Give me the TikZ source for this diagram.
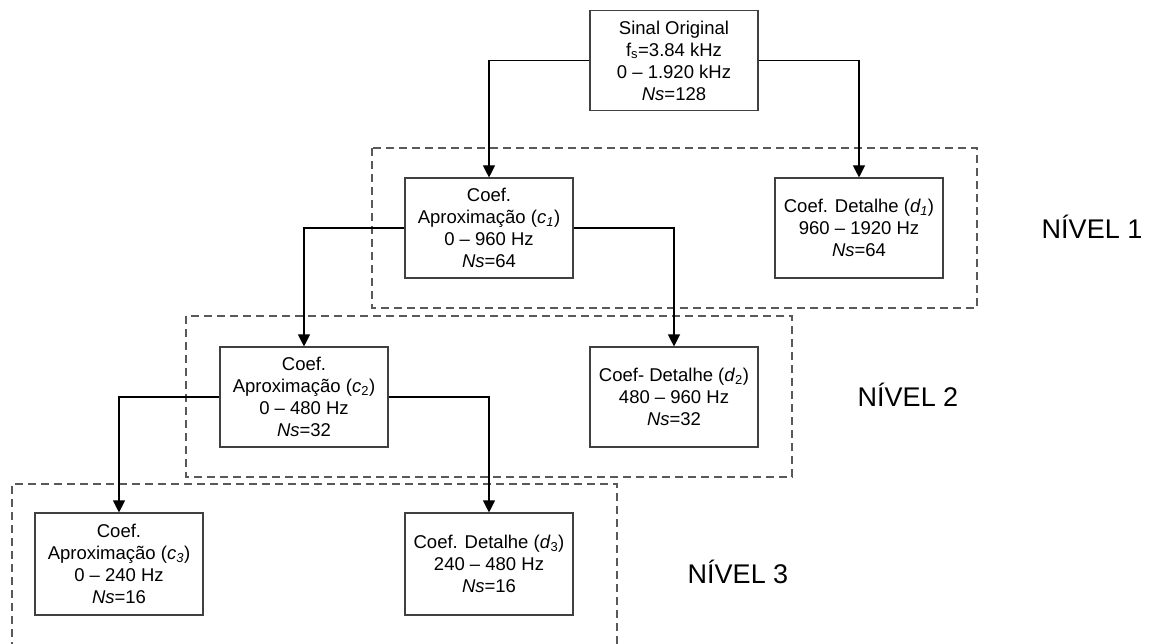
\documentclass[tikz,border=0pt]{standalone}
\usepackage{fontspec}
\setmainfont{Liberation Sans}
\usetikzlibrary{arrows.meta}
\tikzset{
  box/.style={draw=black!75, line width=1.1pt, fill=white, minimum width=168pt, minimum height=100pt, align=center, inner sep=2pt, font=\fontsize{18.5}{22}\selectfont},
  arr/.style={draw=black, line width=1.1pt, -{Triangle[width=12pt,length=12pt]}},
  grp/.style={draw=black!65, line width=1.2pt, dash pattern=on 8pt off 5pt},
  lvl/.style={font=\fontsize{27}{30}\selectfont, inner sep=0pt}
}
\begin{document}
\begin{tikzpicture}[x=1pt,y=-1pt]
\useasboundingbox (0,0) rectangle (1150,644);
% dashed level frames
\draw[grp] (372,148) rectangle (977,308);
\draw[grp] (186,316) rectangle (792,477);
\draw[grp] (12,650) -- (12,484) -- (617,484) -- (617,650);
% boxes
\node[box] (orig) at (674,60.5) {Sinal Original\\f\textsubscript{s}=3.84 kHz\\0 -- 1.920 kHz\\\textit{Ns}=128};
\node[box] (c1) at (489,228) {Coef.\\Aproxima\c{c}\~ao (\textit{c\textsubscript{1}})\\0 -- 960 Hz\\\textit{Ns}=64};
\node[box] (d1) at (859,228) {Coef. Detalhe (\textit{d\textsubscript{1}})\\960 -- 1920 Hz\\\textit{Ns}=64};
\node[box] (c2) at (304,397) {Coef.\\Aproxima\c{c}\~ao (\textit{c}\textsubscript{2})\\0 -- 480 Hz\\\textit{Ns}=32};
\node[box] (d2) at (674,397) {Coef- Detalhe (\textit{d}\textsubscript{2})\\480 -- 960 Hz\\\textit{Ns}=32};
\node[box, minimum height=102pt] (c3) at (119,564) {Coef.\\Aproxima\c{c}\~ao (\textit{c\textsubscript{3}})\\0 -- 240 Hz\\\textit{Ns}=16};
\node[box, minimum height=102pt] (d3) at (489,564) {Coef. Detalhe (\textit{d}\textsubscript{3})\\240 -- 480 Hz\\\textit{Ns}=16};
% connectors
\draw[arr] (orig.west) -| (c1.north);
\draw[arr] (orig.east) -| (d1.north);
\draw[arr] (c1.west) -| (c2.north);
\draw[arr] (c1.east) -| (d2.north);
\draw[arr] (c2.west) -| (c3.north);
\draw[arr] (c2.east) -| (d3.north);
% level labels
\node[lvl] (n1) at (1092,227) {NÍVEL 1};
\node[lvl] (n2) at (908,395) {NÍVEL 2};
\node[lvl] (n3) at (738,572) {NÍVEL 3};
\end{tikzpicture}
\end{document}
